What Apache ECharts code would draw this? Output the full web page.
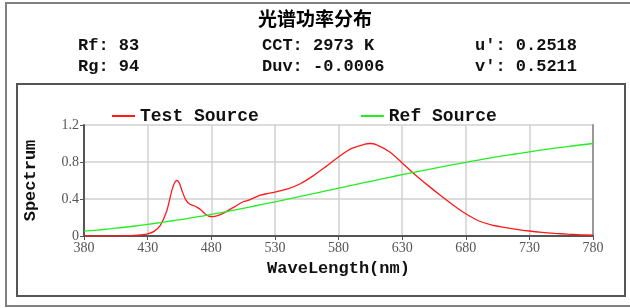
<!DOCTYPE html>
<html><head><meta charset="utf-8">
<script src="https://cdn.jsdelivr.net/npm/echarts@6/dist/echarts.min.js"></script>
<style>html,body{margin:0;padding:0;background:#fff}#c{width:630px;height:308px}</style>
</head><body><div id="c"></div>
<script>
const title = '光谱功率分布';
const statsLeft = ['Rf: 83', 'Rg: 94'];
const statsMid = ['CCT: 2973 K', 'Duv: -0.0006'];
const statsRight = ["u': 0.2518", "v': 0.5211"];
const xTicks = [380, 430, 480, 530, 580, 630, 680, 730, 780];
const testWl = [380,390,400,410,420,425,430,435,440,445,449,451,453,455,457,460,463,466,469,472,475,478,481,485,490,495,500,505,510,518,525,530,540,550,560,570,580,590,600,605,610,620,630,640,650,660,670,680,690,700,710,720,730,740,750,760,770,780];
const testVal = [0.002,0.002,0.002,0.003,0.006,0.012,0.022,0.05,0.115,0.27,0.49,0.57,0.60,0.57,0.49,0.39,0.345,0.33,0.31,0.28,0.24,0.215,0.21,0.22,0.25,0.29,0.33,0.37,0.39,0.44,0.46,0.475,0.51,0.565,0.65,0.75,0.855,0.945,0.99,1.0,0.985,0.91,0.79,0.665,0.55,0.44,0.335,0.24,0.165,0.12,0.094,0.072,0.054,0.04,0.029,0.02,0.013,0.008];
const refWl = [380,390,400,410,420,430,440,450,460,470,480,490,500,510,520,530,540,550,560,570,580,590,600,610,620,630,640,650,660,670,680,690,700,710,720,730,740,750,760,770,780];
const refVal = [0.053,0.064,0.0775,0.092,0.108,0.126,0.145,0.165,0.186,0.209,0.234,0.259,0.286,0.313,0.341,0.369,0.398,0.428,0.457,0.487,0.517,0.547,0.576,0.605,0.634,0.663,0.691,0.718,0.745,0.771,0.796,0.821,0.845,0.868,0.889,0.910,0.930,0.949,0.967,0.984,1.0];

const mono = '"Liberation Mono", "Courier New", monospace';
const chart = echarts.init(document.getElementById('c'), null, {renderer: 'canvas'});
const statFont = {fontFamily: mono, fontWeight: 'bold', fontSize: 17, fill: '#111'};
function statText(x, y, t) { return {type: 'text', left: x, top: y, style: Object.assign({text: t}, statFont)}; }
chart.setOption({
  animation: false,
  graphic: [
    {type: 'rect', shape: {x: 6, y: 3, width: 640, height: 303}, style: {fill: 'none', stroke: '#808080', lineWidth: 2}},
    {type: 'rect', shape: {x: 17, y: 84, width: 608, height: 212}, style: {fill: 'none', stroke: '#555', lineWidth: 2}},
    {type: 'text', left: 'center', top: 9, style: {text: title, fontFamily: '"Noto Sans CJK SC"', fontWeight: 'bold', fontSize: 19, fill: '#000'}},
    statText(78, 37, statsLeft[0]), statText(78, 58, statsLeft[1]),
    statText(262, 37, statsMid[0]), statText(262, 58, statsMid[1]),
    statText(475, 37, statsRight[0]), statText(475, 58, statsRight[1])
  ],
  legend: {
    left: 107, top: 102, itemWidth: 23, itemHeight: 2, itemGap: 102, icon: 'rect',
    textStyle: {fontFamily: mono, fontWeight: 'bold', fontSize: 18, color: '#111'},
    data: ['Test Source', 'Ref Source']
  },
  grid: {left: 84, right: 37, top: 125, bottom: 72},
  xAxis: {
    type: 'value', min: 380, max: 780,
    name: 'WaveLength(nm)', nameLocation: 'middle', nameGap: 24,
    nameTextStyle: {fontFamily: mono, fontWeight: 'bold', fontSize: 17, color: '#111'},
    axisLine: {lineStyle: {color: '#555', width: 2}},
    axisTick: {show: true, customValues: xTicks, length: 4, lineStyle: {color: '#555'}},
    axisLabel: {customValues: xTicks, fontFamily: '"Liberation Serif"', fontSize: 14, color: '#555', margin: 5},
    splitLine: {show: true, lineStyle: {color: '#d0d0d0', width: 1.5}}
  },
  yAxis: [{
    type: 'value', min: 0, max: 1.2, interval: 0.4,
    name: 'Spectrum', nameLocation: 'middle', nameGap: 45, nameRotate: 90,
    nameTextStyle: {fontFamily: mono, fontWeight: 'bold', fontSize: 17, color: '#111'},
    axisLine: {show: true, lineStyle: {color: '#555', width: 2}},
    axisTick: {show: true, length: 4, lineStyle: {color: '#555'}},
    axisLabel: {fontFamily: '"Liberation Serif"', fontSize: 14, color: '#555', margin: 5},
    splitLine: {show: true, lineStyle: {color: '#d0d0d0', width: 1.5}}
  }, {
    type: 'value', min: 0, max: 1.2, position: 'right',
    axisLine: {show: true, lineStyle: {color: '#999', width: 2}},
    axisTick: {show: false}, axisLabel: {show: false}, splitLine: {show: false}
  }],
  series: [
    {name: 'Test Source', type: 'line', showSymbol: false, smooth: 0.3, color: '#ff1a1a',
     lineStyle: {width: 1.3}, data: testWl.map((w, i) => [w, testVal[i]])},
    {name: 'Ref Source', type: 'line', showSymbol: false, smooth: true, color: '#22ee22',
     lineStyle: {width: 1.3}, data: refWl.map((w, i) => [w, refVal[i]])}
  ]
});
</script></body></html>
